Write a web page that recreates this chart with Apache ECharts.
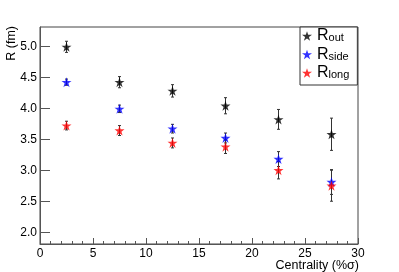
<!DOCTYPE html>
<html><head><meta charset="utf-8">
<script src="https://cdn.jsdelivr.net/npm/echarts@6/dist/echarts.min.js"></script>
<style>html,body{margin:0;padding:0;background:#fff}#c{width:399px;height:272px}</style>
</head><body><div id="c"></div>
<script>
const centrality = [2.5, 7.5, 12.5, 17.5, 22.5, 27.5];
const rOut = [4.99, 4.42, 4.28, 4.04, 3.82, 3.58];
const rOutErr = [0.09, 0.09, 0.10, 0.13, 0.16, 0.26];
const rSide = [4.42, 3.99, 3.67, 3.52, 3.18, 2.81];
const rSideErr = [0.05, 0.06, 0.07, 0.08, 0.12, 0.20];
const rLong = [3.72, 3.64, 3.44, 3.38, 3.00, 2.75];
const rLongErr = [0.07, 0.08, 0.08, 0.11, 0.14, 0.25];
const yTicks = [2.0, 2.5, 3.0, 3.5, 4.0, 4.5, 5.0];
const seriesNames = ['Rout', 'Rside', 'Rlong'];
const subs = {Rout: 'out', Rside: 'side', Rlong: 'long'};
const colors = ['#000000', '#0000ff', '#ff0000'];

const STAR = 'path://M50,0 L61.2,34.5 L97.6,34.5 L68.2,55.9 L79.4,90.5 L50,69.1 L20.6,90.5 L31.8,55.9 L2.4,34.5 L38.8,34.5 Z';
const FONT = 'Liberation Sans, Arial, Helvetica, sans-serif';

function pts(vals, errs) { return centrality.map((c, i) => [c, vals[i], errs[i]]); }
const sets = [pts(rOut, rOutErr), pts(rSide, rSideErr), pts(rLong, rLongErr)];

function errItem(params, api) {
  const x = api.value(0), y = api.value(1), e = api.value(2);
  const t = api.coord([x, y + e]), b = api.coord([x, y - e]);
  const cap = 1.5, st = {stroke: '#333', lineWidth: 1};
  return {type: 'group', children: [
    {type: 'line', shape: {x1: t[0], y1: t[1], x2: b[0], y2: b[1]}, style: st},
    {type: 'line', shape: {x1: t[0] - cap, y1: t[1], x2: t[0] + cap, y2: t[1]}, style: st},
    {type: 'line', shape: {x1: b[0] - cap, y1: b[1], x2: b[0] + cap, y2: b[1]}, style: st}
  ]};
}

const series = [];
sets.forEach((d, i) => {
  series.push({name: seriesNames[i] + ' err', type: 'custom', data: d, renderItem: errItem, z: 2, silent: true,
    encode: {x: 0, y: 1}});
});
sets.forEach((d, i) => {
  series.push({name: seriesNames[i], type: 'scatter', data: d.map(p => [p[0], p[1]]), symbol: STAR,
    symbolSize: 10, itemStyle: {color: colors[i]}, z: 3});
});

const chart = echarts.init(document.getElementById('c'), null, {renderer: 'canvas'});
chart.setOption({
  backgroundColor: '#fff',
  animation: false,
  textStyle: {fontFamily: FONT},
  grid: {left: 40, right: 41, top: 27, bottom: 28, show: true, borderColor: '#444', borderWidth: 1,
    containLabel: false, outerBoundsMode: 'none'},
  xAxis: {
    type: 'value', min: 0, max: 30, interval: 5,
    axisLine: {lineStyle: {color: '#555'}},
    axisTick: {inside: true, length: 6, lineStyle: {color: '#555'}},
    minorTick: {show: true, splitNumber: 5, length: 3, lineStyle: {color: '#555'}},
    axisLabel: {fontSize: 12, color: '#000', margin: 4, fontFamily: FONT},
    splitLine: {show: false}
  },
  yAxis: {
    type: 'value', min: 1.81, max: 5.31,
    axisLine: {show: true, lineStyle: {color: '#555'}},
    axisTick: {inside: true, length: 10, customValues: yTicks, lineStyle: {color: '#555'}},
    axisLabel: {fontSize: 12, color: '#000', margin: 3, customValues: yTicks, formatter: v => v.toFixed(1), fontFamily: FONT},
    splitLine: {show: false}
  },
  legend: {
    data: seriesNames, orient: 'vertical', left: 300, top: 27,
    padding: [1, 8, 4, 2], itemGap: 2.5, itemWidth: 10, itemHeight: 10,
    icon: STAR, borderColor: '#333', borderWidth: 1, backgroundColor: '#fff',
    formatter: n => '{r|R}{s|' + subs[n] + '}',
    textStyle: {
      rich: {
        r: {fontSize: 16, lineHeight: 17.5, color: '#000', fontFamily: FONT},
        s: {fontSize: 11, lineHeight: 17.5, color: '#000', fontFamily: FONT, padding: [4, 0, 0, 0]}
      }
    }
  },
  graphic: [{
    type: 'text', x: 12, y: 26, rotation: Math.PI / 2,
    style: {text: 'R (fm)', font: '12.5px ' + FONT, fill: '#000', align: 'right', verticalAlign: 'middle'}
  }, {
    type: 'text', x: 359, y: 266,
    style: {text: 'Centrality (%σ)', font: '12.5px ' + FONT, fill: '#000', align: 'right', verticalAlign: 'middle'}
  }],
  series: series
});
</script></body></html>
